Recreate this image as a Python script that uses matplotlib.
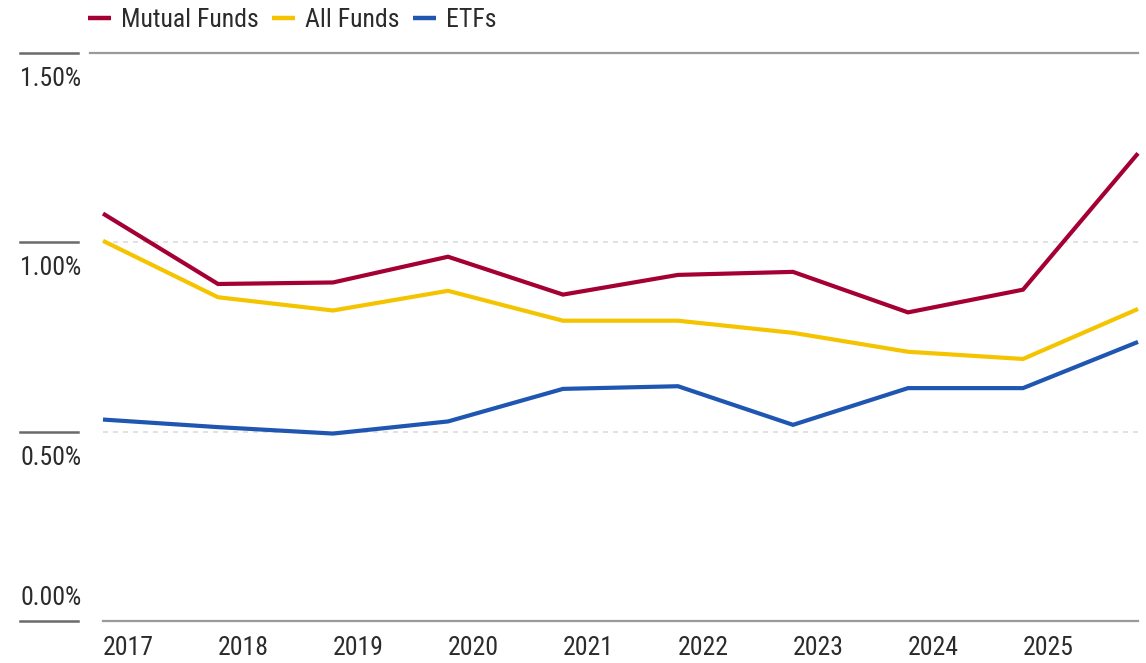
import matplotlib
matplotlib.use("Agg")
import matplotlib.pyplot as plt
import matplotlib.transforms as mtransforms
from matplotlib.lines import Line2D
from matplotlib import font_manager

names = {f.name for f in font_manager.fontManager.ttflist}
family = [f for f in ["Liberation Sans Narrow", "Roboto Condensed", "Liberation Sans", "DejaVu Sans"] if f in names]
plt.rcParams['font.family'] = family

# ---- data ----
years = ["2017", "2018", "2019", "2020", "2021", "2022", "2023", "2024", "2025", ""]
mutual_funds = [1.076, 0.890, 0.894, 0.962, 0.862, 0.914, 0.922, 0.815, 0.875, 1.235]
all_funds = [1.004, 0.855, 0.820, 0.872, 0.793, 0.793, 0.761, 0.711, 0.692, 0.824]
etfs = [0.532, 0.512, 0.495, 0.527, 0.613, 0.620, 0.518, 0.615, 0.615, 0.737]
y_ticks = [0.0, 0.5, 1.0, 1.5]
y_tick_labels = ["0.00%", "0.50%", "1.00%", "1.50%"]
series_names = ["Mutual Funds", "All Funds", "ETFs"]

colors = ["#A50034", "#F5C400", "#1F56B1"]
text_color = "#2b2b2b"
fs = 18.5

W, H = 1146, 663
fig = plt.figure(figsize=(W / 100, H / 100), dpi=100)
left_px, right_px, top_px, bottom_px = 103, 1138, 53, 621
ax = fig.add_axes([left_px / W, 1 - bottom_px / H, (right_px - left_px) / W, (bottom_px - top_px) / H])
ax.set_xlim(0, len(years) - 1)
ax.set_ylim(0, 1.5)
for s in ax.spines.values():
    s.set_visible(False)
ax.set_yticks([])
ax.set_xticks([])

x = list(range(len(years)))
lines = []
for vals, c, n in zip([mutual_funds, all_funds, etfs], colors, series_names):
    l, = ax.plot(x, vals, color=c, lw=3.0, label=n, clip_on=False, zorder=3,
                 solid_joinstyle='miter', solid_capstyle='butt')
    lines.append(l)

# gridlines
for v in y_ticks:
    if v in (0.0, 1.5):
        xmin = -13 / (right_px - left_px) if v == 1.5 else 0
        ax.axhline(v, xmin=xmin, xmax=1, color="#9a9a9a", lw=1.6, clip_on=False, zorder=1)
    else:
        ax.axhline(v, color="#dcdcdc", lw=1.2, ls=(0, (3, 3)), zorder=1)

# left tick marks and labels
blend = mtransforms.blended_transform_factory(fig.transFigure, ax.transData)
for v, lab in zip(y_ticks, y_tick_labels):
    ax.add_line(Line2D([20 / W, 78 / W], [v, v], transform=blend, color="#6a6a6a", lw=1.8, clip_on=False))
    dy = 23 if v == 0 else -26
    off = mtransforms.ScaledTranslation(0, dy / 100, fig.dpi_scale_trans)
    ax.text(20 / W, v, lab, transform=blend + off, ha="left", va="center",
            fontsize=fs, color=text_color, clip_on=False)

# x labels (left aligned at each point)
for xi, lab in zip(x, years):
    if lab:
        ax.text(xi, 0, lab, transform=ax.transData + mtransforms.ScaledTranslation(0, -27 / 100, fig.dpi_scale_trans),
                ha="left", va="center", fontsize=fs, color=text_color)

leg = fig.legend(handles=lines, labels=series_names, loc="upper left",
                 bbox_to_anchor=(88 / W, 1 - 8 / H), ncol=3, frameon=False,
                 fontsize=fs, handlelength=0.9, handletextpad=0.4, columnspacing=0.5,
                 borderpad=0, borderaxespad=0, labelcolor=text_color)
for h in leg.legend_handles:
    h.set_linewidth(3.2)

fig.savefig("out.png", dpi=100, facecolor="white")
